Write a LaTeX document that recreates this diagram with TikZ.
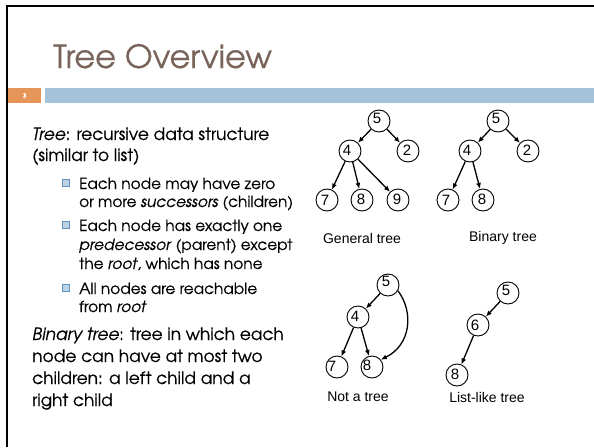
\documentclass[tikz,border=0pt]{standalone}
\usepackage{fontspec}
\setmainfont{TeX Gyre Adventor}[FakeBold=0.5]
\newfontfamily\arialf{Liberation Sans}
\usetikzlibrary{arrows.meta}
\definecolor{titlec}{RGB}{120,100,90}
\definecolor{orangec}{RGB}{229,149,88}
\definecolor{bluec}{RGB}{164,194,217}
\definecolor{bulletfill}{RGB}{190,212,230}
\definecolor{bulletdraw}{RGB}{95,145,190}
\begin{document}
\begin{tikzpicture}[x=1pt,y=-1pt,
  mainline/.style={anchor=base west, inner sep=0pt, font=\fontsize{17}{17}\selectfont},
  subline/.style={anchor=base west, inner sep=0pt, font=\fontsize{15.3}{15.3}\selectfont},
  bul/.style={draw=bulletdraw, fill=bulletfill, line width=1.2pt, minimum size=7pt, inner sep=0pt},
  tn/.style={circle, draw, line width=0.9pt, minimum size=22pt, inner sep=0pt},
  dig/.style={font=\arialf\fontsize{15}{15}\selectfont, inner sep=0pt},
  captxt/.style={font=\arialf\fontsize{14}{14}\selectfont, inner sep=0pt},
  arr/.style={-{Latex[length=6pt,width=5pt]}, line width=1.3pt}]
\useasboundingbox (0,0) rectangle (594,447);
\fill[white] (0,0) rectangle (594,447);
\draw[line width=2.5pt] (7,447) -- (7,6) -- (594,6);
% title
\node[anchor=base west, inner sep=0pt, text=titlec, font=\fontsize{32}{32}\selectfont] (title) at (53,68) {Tree Overview};
\fill[orangec] (8,88) rectangle (41,103);
\node[text=white, font=\bfseries\fontsize{7}{7}\selectfont, inner sep=0pt] (pagenum) at (24.5,95.5) {3};
\fill[bluec] (45,88) rectangle (594,103);
% left text
\node[mainline] (t1) at (32,140) {\textit{Tree}: recursive data structure};
\node[mainline] (t2) at (32,161) {(similar to list)};
\node[bul] (b1) at (66,183) {};
\node[subline] (s1) at (79,189) {Each node may have zero};
\node[subline] (s2) at (79,207) {or more \textit{successors} (children)};
\node[bul] (b2) at (66,225) {};
\node[subline] (s3) at (79,231) {Each node has exactly one};
\node[subline] (s4) at (79,250) {\textit{predecessor} (parent) except};
\node[subline] (s5) at (79,269) {the \textit{root}, which has none};
\node[bul] (b3) at (66,288) {};
\node[subline] (s6) at (79,294) {All nodes are reachable};
\node[subline] (s7) at (79,312) {from \textit{root}};
\node[mainline] (t3) at (32,340) {\textit{Binary tree}: tree in which each};
\node[mainline] (t4) at (32,362) {node can have at most two};
\node[mainline] (t5) at (32,384) {children: a left child and a};
\node[mainline] (t6) at (32,406) {right child};
% general tree
\node[tn] (g5) at (379,121) {};
\node[tn] (g4) at (350,151) {};
\node[tn] (g2) at (408,151) {};
\node[tn] (g7) at (327,200) {};
\node[tn] (g8) at (362,200) {};
\node[tn] (g9) at (398,200) {};
\node[dig] (g5l) at ([shift={(-2,-3)}]g5.center) {5};
\node[dig] (g4l) at ([shift={(-3,-1)}]g4.center) {4};
\node[dig] (g2l) at ([shift={(-1,-1)}]g2.center) {2};
\node[dig] (g7l) at ([shift={(-2,0)}]g7.center) {7};
\node[dig] (g8l) at ([shift={(-1,-1)}]g8.center) {8};
\node[dig] (g9l) at ([shift={(-1,-1)}]g9.center) {9};
\draw[arr] (g5) -- (g4);
\draw[arr] (g5) -- (g2);
\draw[arr] (g4) -- (g7);
\draw[arr] (g4) -- (g8);
\draw[arr] (g4) -- (g9);
\node[captxt] (gcap) at (362,238) {General tree};
% binary tree
\node[tn] (b5) at (498,121) {};
\node[tn] (b4) at (470,151) {};
\node[tn] (b2n) at (528,151) {};
\node[tn] (b7) at (448,200) {};
\node[tn] (b8) at (483,200) {};
\node[dig] (b5l) at ([shift={(-2,-3)}]b5.center) {5};
\node[dig] (b4l) at ([shift={(-3,-1)}]b4.center) {4};
\node[dig] (b2l) at ([shift={(-1,-1)}]b2n.center) {2};
\node[dig] (b7l) at ([shift={(-2,0)}]b7.center) {7};
\node[dig] (b8l) at ([shift={(-1,-1)}]b8.center) {8};
\draw[arr] (b5) -- (b4);
\draw[arr] (b5) -- (b2n);
\draw[arr] (b4) -- (b7);
\draw[arr] (b4) -- (b8);
\node[captxt] (bcap) at (503,238) {Binary tree};
% not a tree
\node[tn] (n5) at (388,285) {};
\node[tn] (n4) at (358,317) {};
\node[tn] (n7) at (337,367) {};
\node[tn] (n8) at (372,367) {};
\node[dig] (n5l) at ([shift={(-2,-4)}]n5.center) {5};
\node[dig] (n4l) at ([shift={(-3,-1)}]n4.center) {4};
\node[dig] (n7l) at ([shift={(-5,-1)}]n7.center) {7};
\node[dig] (n8l) at ([shift={(-5,-2)}]n8.center) {8};
\draw[arr] (n5) -- (n4);
\draw[arr] (n4) -- (n7);
\draw[arr] (n4) -- (n8);
\draw[arr] (n5.-30) .. controls (414,312) and (411,345) .. (n8.40);
\node[captxt] (ncap) at (358,397) {Not a tree};
% list-like tree
\node[tn] (l5) at (508,293) {};
\node[tn] (l6) at (478,325) {};
\node[tn] (l8) at (457,375) {};
\node[dig] (l5l) at ([shift={(-2,-3)}]l5.center) {5};
\node[dig] (l6l) at ([shift={(-3,0)}]l6.center) {6};
\node[dig] (l8l) at ([shift={(-2,-1)}]l8.center) {8};
\draw[arr] (l5) -- (l6);
\draw[arr] (l6) -- (l8);
\node[captxt] (lcap) at (487,397) {List-like tree};
\end{tikzpicture}
\end{document}
